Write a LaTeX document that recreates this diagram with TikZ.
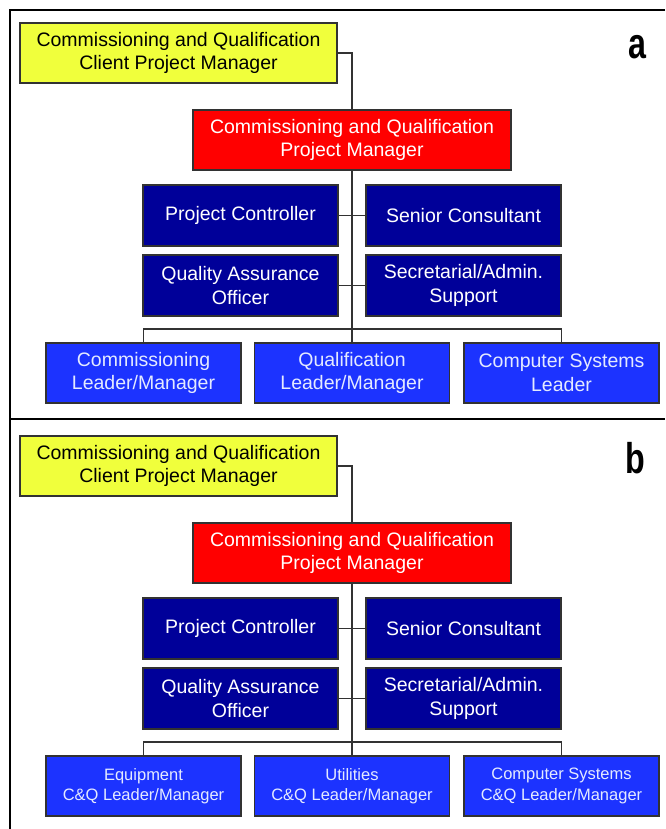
\documentclass[tikz,border=0pt]{standalone}
\usepackage{fontspec}
\usepackage{graphicx}
\setmainfont{Liberation Sans}
\definecolor{cqyellow}{RGB}{240,255,60}
\definecolor{cqred}{RGB}{255,0,0}
\definecolor{cqnavy}{RGB}{0,0,153}
\definecolor{cqblue}{RGB}{28,51,255}
\definecolor{cqline}{RGB}{50,50,50}
\definecolor{cqlight}{RGB}{228,234,255}
\tikzset{
  box/.style={draw=cqline, line width=1.2pt, rectangle, inner sep=0pt, align=center,
    font=\fontsize{19.5}{23.5}\selectfont},
  yelbox/.style={box, fill=cqyellow, text=black, minimum width=317pt, minimum height=60pt},
  redbox/.style={box, fill=cqred, text=white, minimum width=318pt, minimum height=60pt},
  navybox/.style={box, fill=cqnavy, text=white, minimum width=195pt, minimum height=61pt},
  bluebox/.style={box, fill=cqblue, text=cqlight, minimum width=195pt, minimum height=60pt},
  smalltext/.style={font=\fontsize{16.5}{20.5}\selectfont},
  conn/.style={draw=cqline, line width=1.4pt},
  frame/.style={draw=black, line width=1.5pt},
  panellabel/.style={anchor=base, inner sep=0pt, font=\fontsize{43}{43}\selectfont\bfseries}
}
\begin{document}
\begin{tikzpicture}[x=1pt, y=-1pt]
\useasboundingbox (0,0) rectangle (665,829);
% frame
\draw[frame] (665,10) -- (10,10) -- (10,829);
\draw[frame] (10,419) -- (665,419);

% ---------- panel a ----------
\node[yelbox] (yela) at (178.5,53) {Commissioning and Qualification\\Client Project Manager};
\node[redbox] (reda) at (352,140) {Commissioning and Qualification\\Project Manager};
\node[navybox] (pca) at (240.5,215.5) {Project Controller};
\node[navybox] (sca) at (463.5,215.5) {Senior Consultant};
\node[navybox] (qaa) at (240.5,285.5) {Quality Assurance\\Officer};
\node[navybox] (saa) at (463.5,285.5) {Secretarial/Admin.\\Support};
\node[bluebox] (cla) at (143.5,373) {Commissioning\\Leader/Manager};
\node[bluebox] (qla) at (352,373) {Qualification\\Leader/Manager};
\node[bluebox] (csa) at (561.5,373) {Computer Systems\\Leader};
\coordinate (busa) at (352,329);
\node[panellabel] (laba) at (637,59) {\scalebox{0.75}[1]{a}};

\draw[conn] (yela.east) -| (reda.north);
\draw[conn] (reda.south) -- (qla.north);
\draw[conn] (pca.east) -- (sca.west);
\draw[conn] (qaa.east) -- (saa.west);
\draw[conn] (cla.north) |- (busa) -| (csa.north);

% ---------- panel b ----------
\node[yelbox] (yelb) at (178.5,466) {Commissioning and Qualification\\Client Project Manager};
\node[redbox] (redb) at (352,553) {Commissioning and Qualification\\Project Manager};
\node[navybox] (pcb) at (240.5,628.5) {Project Controller};
\node[navybox] (scb) at (463.5,628.5) {Senior Consultant};
\node[navybox] (qab) at (240.5,698.5) {Quality Assurance\\Officer};
\node[navybox] (sab) at (463.5,698.5) {Secretarial/Admin.\\Support};
\node[bluebox, smalltext] (eqb) at (143.5,786) {Equipment\\C\&Q Leader/Manager};
\node[bluebox, smalltext] (utb) at (352,786) {Utilities\\C\&Q Leader/Manager};
\node[bluebox, smalltext] (csb) at (561.5,786) {Computer Systems\\C\&Q Leader/Manager};
\coordinate (busb) at (352,742);
\node[panellabel] (labb) at (635,473) {\scalebox{0.75}[1]{b}};

\draw[conn] (yelb.east) -| (redb.north);
\draw[conn] (redb.south) -- (utb.north);
\draw[conn] (pcb.east) -- (scb.west);
\draw[conn] (qab.east) -- (sab.west);
\draw[conn] (eqb.north) |- (busb) -| (csb.north);
\end{tikzpicture}
\end{document}
